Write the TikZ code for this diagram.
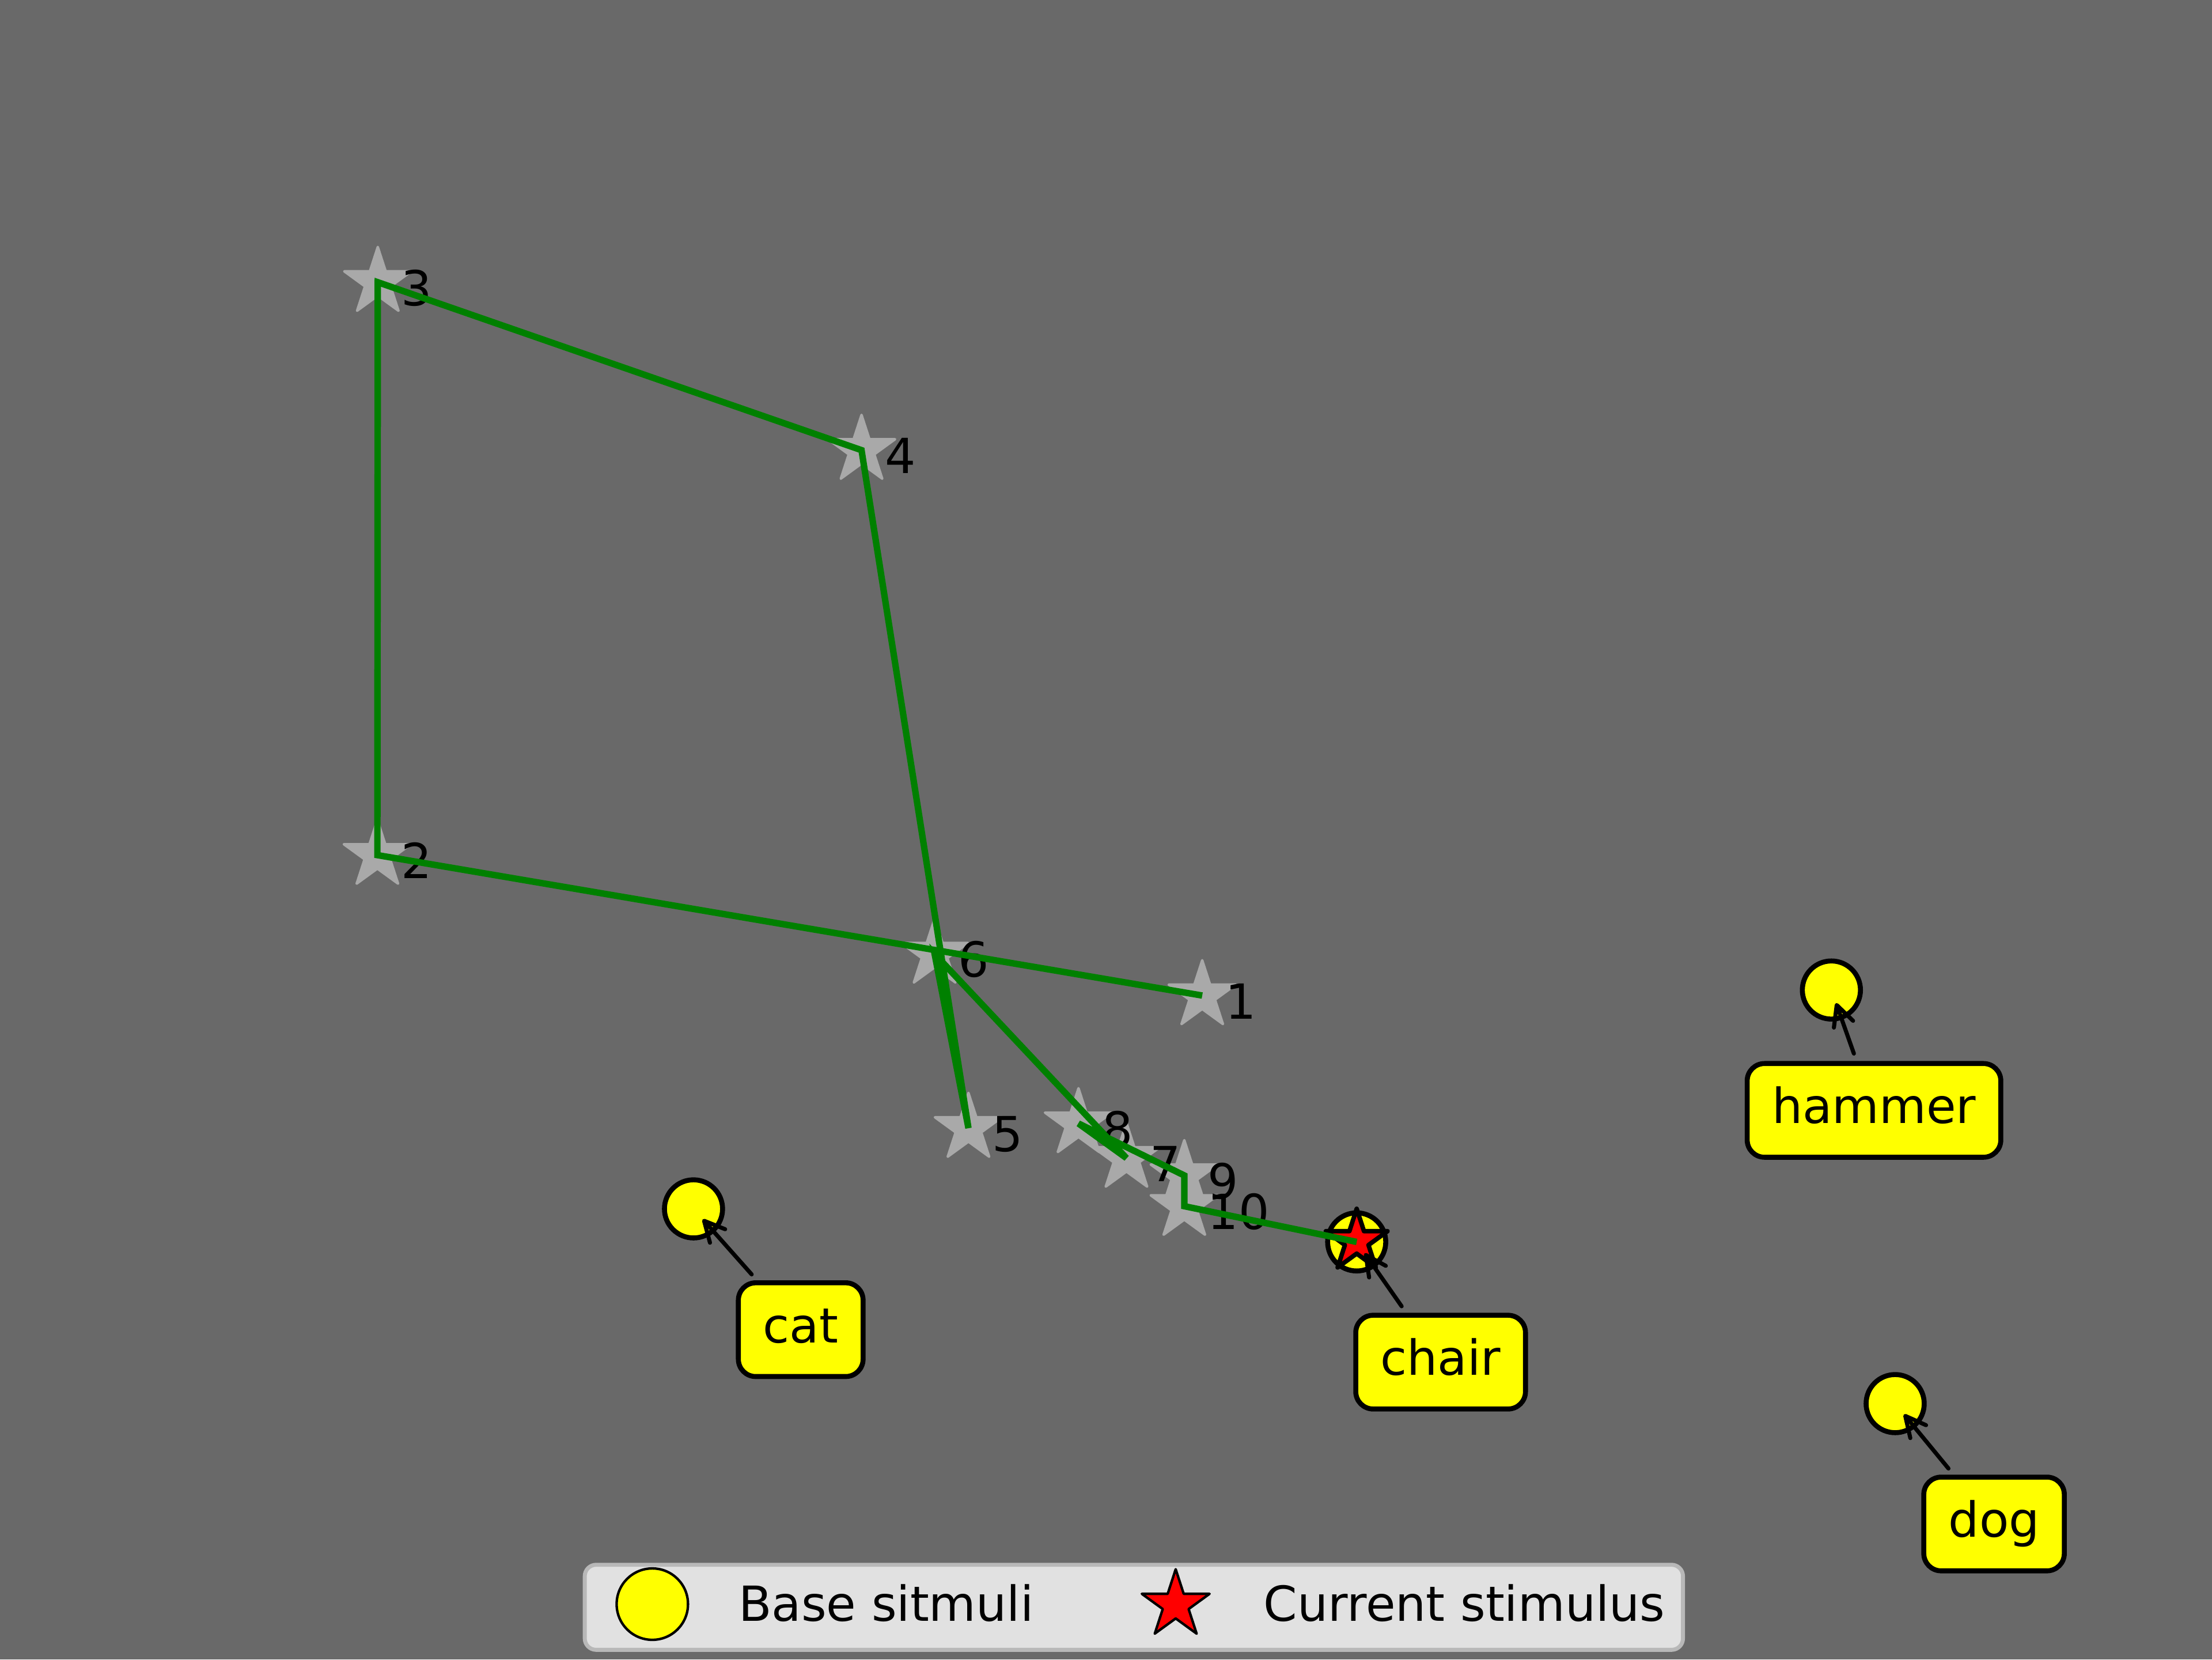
\documentclass[tikz,border=0pt]{standalone}
\usepackage{fontspec}
\setmainfont{DejaVu Sans}
\usetikzlibrary{shapes.geometric,arrows.meta}
\definecolor{bgcol}{HTML}{696969}
\definecolor{stargray}{HTML}{A9A9A9}
\definecolor{pathgreen}{HTML}{008000}
\definecolor{legfill}{HTML}{E1E1E1}
\definecolor{legedge}{HTML}{B8B8B8}
\definecolor{stimyellow}{HTML}{FFFF00}
\definecolor{curred}{HTML}{FF0000}
\begin{document}
\begin{tikzpicture}[x=0.1mm,y=-0.1mm,
  font=\fontsize{9.75pt}{11.7pt}\selectfont,
  gstar/.style={star, star points=5, star point ratio=2.618, draw=stargray, fill=stargray,
    line width=0.5pt, line join=round, inner sep=0pt, minimum size=5.0mm},
  numlab/.style={anchor=base west, inner sep=0pt, text=black},
  stimdot/.style={circle, draw=black, fill=stimyellow, line width=1pt, inner sep=0pt, minimum size=4.12mm},
  curstar/.style={star, star points=5, star point ratio=2.618, draw=black, fill=curred,
    line width=0.9pt, line join=round, inner sep=0pt, minimum size=4.6mm},
  trail/.style={draw=pathgreen, line width=1.3pt},
  namebox/.style={rectangle, rounded corners=3.5pt, draw=black, fill=stimyellow, line width=1pt,
    inner xsep=5pt, inner ysep=4.45pt, text height=0.76em, text depth=0.24em, text=black},
  pointer/.style={draw=black, line width=0.82pt, line cap=round,
    -{Straight Barb[length=4.1pt,width=4.1pt,round]}, shorten <=1.6pt, shorten >=2.8pt},
  legframe/.style={rectangle, draw=legedge, fill=legfill, line width=0.8pt, rounded corners=2.3pt,
    inner sep=0pt, minimum width=77.85mm, minimum height=6.03mm},
  legtext/.style={anchor=base west, inner sep=0pt, text=black}
]
\useasboundingbox (0,0) rectangle (1568,1176);
\fill[bgcol] (0,0) rectangle (1568,1176);

% trajectory stars
\node[gstar] (s1) at (852.2,705.5) {};
\node[gstar] (s2) at (267.5,606) {};
\node[gstar] (s3) at (267.8,200) {};
\node[gstar] (s4) at (610.7,319) {};
\node[gstar] (s5) at (686.5,799.5) {};
\node[gstar] (s6) at (662.5,676) {};
\node[gstar] (s7) at (798.5,820.7) {};
\node[gstar] (s8) at (764.5,796.2) {};
\node[gstar] (s9) at (839.5,833) {};
\node[gstar] (s10) at (839.5,854.8) {};

% step numbers
\foreach \i in {1,...,10}{
  \path (s\i.center) ++(16,16.5) node[numlab] (n\i) {\i};
}

% base stimuli
\node[stimdot] (dcat) at (491.6,856.7) {};
\node[stimdot] (dchair) at (961.7,880.1) {};
\node[stimdot] (dhammer) at (1298.2,701.6) {};
\node[stimdot] (ddog) at (1343.4,994.7) {};

% current stimulus
\node[curstar] (cur) at (961.7,879.6) {};

% green trajectory
\draw[trail] (s1.center) -- (s2.center) -- (s3.center) -- (s4.center) -- (s5.center)
  -- (s6.center) -- (s7.center) -- (s8.center) -- (s9.center) -- (s10.center) -- (dchair.center);

% name boxes
\node[namebox] (bcat) at (567.6,942.3) {cat};
\node[namebox] (bchair) at (1021.2,965.3) {chair};
\node[namebox] (bhammer) at (1328.4,786.9) {hammer};
\node[namebox] (bdog) at (1413.5,1080) {dog};

% pointers
\draw[pointer] (bcat) -- (dcat.center);
\draw[pointer] (bchair) -- (dchair.center);
\draw[pointer] (bhammer) -- (dhammer.center);
\draw[pointer] (bdog) -- (ddog.center);

% legend
\node[legframe] (legend) at (803.75,1139.05) {};
\node[circle, draw=black, fill=stimyellow, line width=0.5pt, inner sep=0pt, minimum size=5.06mm] (legdot) at (462.4,1136.8) {};
\node[legtext] (legbase) at (522.8,1148.7) {Base sitmuli};
\node[star, star points=5, star point ratio=2.618, draw=black, fill=curred, line width=0.5pt,
  line join=round, inner sep=0pt, minimum size=5.05mm] (legstar) at (833.4,1137.3) {};
\node[legtext] (legcur) at (895,1148.7) {Current stimulus};
\end{tikzpicture}
\end{document}
